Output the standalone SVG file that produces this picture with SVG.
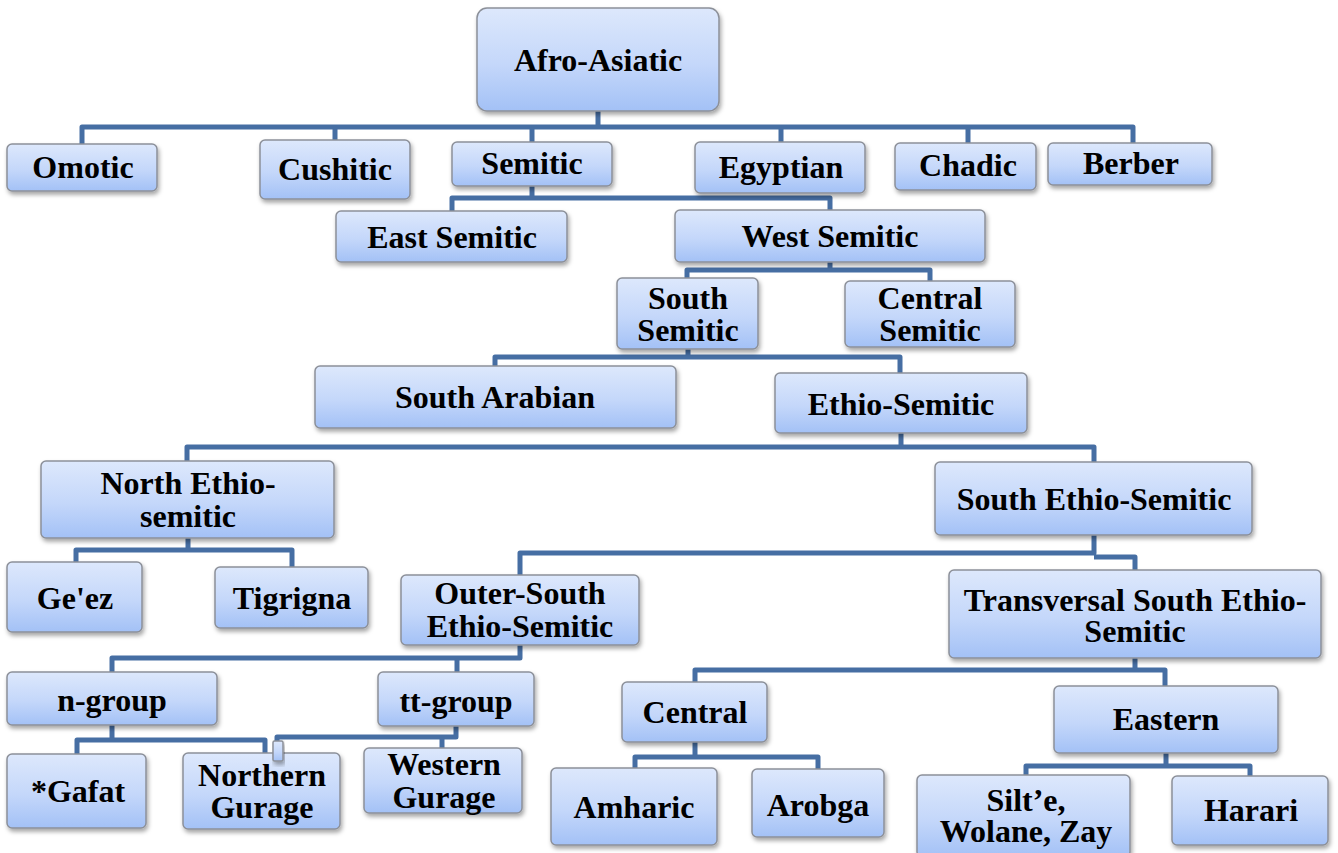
<svg xmlns="http://www.w3.org/2000/svg" width="1338" height="853" viewBox="0 0 1338 853">
<defs>
<linearGradient id="g" x1="0" y1="0" x2="0" y2="1">
<stop offset="0" stop-color="#dde8fc"/>
<stop offset="0.55" stop-color="#c4d7fa"/>
<stop offset="1" stop-color="#a3c1f6"/>
</linearGradient>
<filter id="sh" x="-10%" y="-10%" width="130%" height="140%">
<feDropShadow dx="1.5" dy="3" stdDeviation="2" flood-color="#000" flood-opacity="0.35"/>
</filter>
<style>
.n rect{fill:url(#g);stroke:#8c9099;stroke-width:1.5;filter:url(#sh)}
.n text{font-family:"Liberation Serif","Times New Roman",serif;font-weight:bold;font-size:32px;fill:#000;text-anchor:middle}
.c path{fill:none;stroke:#466ea3;stroke-width:5;stroke-linejoin:round}
</style>
</defs>
<rect width="1338" height="853" fill="#fff"/>
<g class="c" id="connectors">
<path d="M598 111V127M82 144V127H1133V143M335 127V140M532 127V142M781 127V142M968 127V143"/>
<path d="M532 186V198H452V211M532 198H830V210"/>
<path d="M830 262V270H687V278M830 270H930V281"/>
<path d="M688 349V357H495V366M688 357H900V373"/>
<path d="M901 433V447H187V461M901 447H1094V462"/>
<path d="M188 538V550H76V562M188 550H292V567"/>
<path d="M1094 535V553H520V575M1094 557H1135V570"/>
<path d="M520 645V658H112V672M520 658H457V672"/>
<path d="M112 725V740H77V754M112 740H265V753"/>
<path d="M456 726V737H277V743M442 737V748"/>
<path d="M1135 658V670H695V682M1135 670H1165V686"/>
<path d="M695 742V757H635V768M695 757H818V769"/>
<path d="M1166 753V766H1026V775M1166 766H1250V776"/>
</g>
<g class="n" id="n-afro"><rect x="477" y="8" width="242" height="103" rx="10"/><text x="598" y="71">Afro-Asiatic</text></g>
<g class="n" id="n-omotic"><rect x="7" y="144" width="150" height="47" rx="5"/><text x="83" y="178">Omotic</text></g>
<g class="n" id="n-cushitic"><rect x="260" y="140" width="150" height="59" rx="5"/><text x="335" y="180">Cushitic</text></g>
<g class="n" id="n-semitic"><rect x="452" y="142" width="160" height="44" rx="5"/><text x="532" y="174">Semitic</text></g>
<g class="n" id="n-egyptian"><rect x="695" y="142" width="170" height="51" rx="5"/><text x="781" y="178">Egyptian</text></g>
<g class="n" id="n-chadic"><rect x="895" y="143" width="141" height="47" rx="5"/><text x="968" y="176">Chadic</text></g>
<g class="n" id="n-berber"><rect x="1048" y="143" width="164" height="42" rx="5"/><text x="1131" y="174">Berber</text></g>
<g class="n" id="n-east"><rect x="336" y="211" width="231" height="51" rx="5"/><text x="452" y="248">East Semitic</text></g>
<g class="n" id="n-west"><rect x="675" y="210" width="310" height="52" rx="5"/><text x="830" y="247">West Semitic</text></g>
<g class="n" id="n-southsem"><rect x="617" y="278" width="141" height="71" rx="5"/><text x="688" y="309">South</text><text x="688" y="341">Semitic</text></g>
<g class="n" id="n-centralsem"><rect x="845" y="281" width="170" height="66" rx="5"/><text x="930" y="309">Central</text><text x="930" y="341">Semitic</text></g>
<g class="n" id="n-southarab"><rect x="315" y="366" width="361" height="62" rx="5"/><text x="495" y="408">South Arabian</text></g>
<g class="n" id="n-ethio"><rect x="775" y="373" width="252" height="60" rx="5"/><text x="901" y="415">Ethio-Semitic</text></g>
<g class="n" id="n-northethio"><rect x="41" y="461" width="293" height="77" rx="5"/><text x="188" y="494">North Ethio-</text><text x="188" y="527">semitic</text></g>
<g class="n" id="n-southethio"><rect x="935" y="462" width="317" height="73" rx="5"/><text x="1094" y="510">South Ethio-Semitic</text></g>
<g class="n" id="n-geez"><rect x="7" y="562" width="135" height="70" rx="5"/><text x="75" y="609">Ge'ez</text></g>
<g class="n" id="n-tigrigna"><rect x="215" y="567" width="153" height="61" rx="5"/><text x="292" y="609">Tigrigna</text></g>
<g class="n" id="n-outer"><rect x="401" y="575" width="238" height="70" rx="5"/><text x="520" y="604">Outer-South</text><text x="520" y="637">Ethio-Semitic</text></g>
<g class="n" id="n-trans"><rect x="949" y="570" width="372" height="88" rx="5"/><text x="1135" y="611">Transversal South Ethio-</text><text x="1135" y="642">Semitic</text></g>
<g class="n" id="n-ngroup"><rect x="7" y="672" width="210" height="53" rx="5"/><text x="112" y="711">n-group</text></g>
<g class="n" id="n-ttgroup"><rect x="378" y="672" width="156" height="54" rx="5"/><text x="456" y="712">tt-group</text></g>
<g class="n" id="n-gafat"><rect x="7" y="754" width="139" height="74" rx="5"/><text x="78" y="802">*Gafat</text></g>
<g class="n" id="n-northgur"><rect x="183" y="753" width="157" height="76" rx="5"/><text x="262" y="786">Northern</text><text x="262" y="818">Gurage</text></g>
<g class="n" id="n-small"><rect x="273" y="741" width="10" height="20" rx="1.5"/></g>
<g class="n" id="n-westgur"><rect x="364" y="748" width="158" height="65" rx="5"/><text x="444" y="775">Western</text><text x="444" y="808">Gurage</text></g>
<g class="n" id="n-central"><rect x="622" y="682" width="145" height="60" rx="5"/><text x="695" y="723">Central</text></g>
<g class="n" id="n-eastern"><rect x="1054" y="686" width="224" height="67" rx="5"/><text x="1166" y="730">Eastern</text></g>
<g class="n" id="n-amharic"><rect x="551" y="768" width="166" height="77" rx="5"/><text x="634" y="818">Amharic</text></g>
<g class="n" id="n-arobga"><rect x="752" y="769" width="132" height="68" rx="5"/><text x="818" y="816">Arobga</text></g>
<g class="n" id="n-silte"><rect x="917" y="775" width="213" height="82" rx="5"/><text x="1026" y="811">Silt’e,</text><text x="1026" y="842">Wolane, Zay</text></g>
<g class="n" id="n-harari"><rect x="1172" y="776" width="156" height="69" rx="5"/><text x="1251" y="821">Harari</text></g>
</svg>
